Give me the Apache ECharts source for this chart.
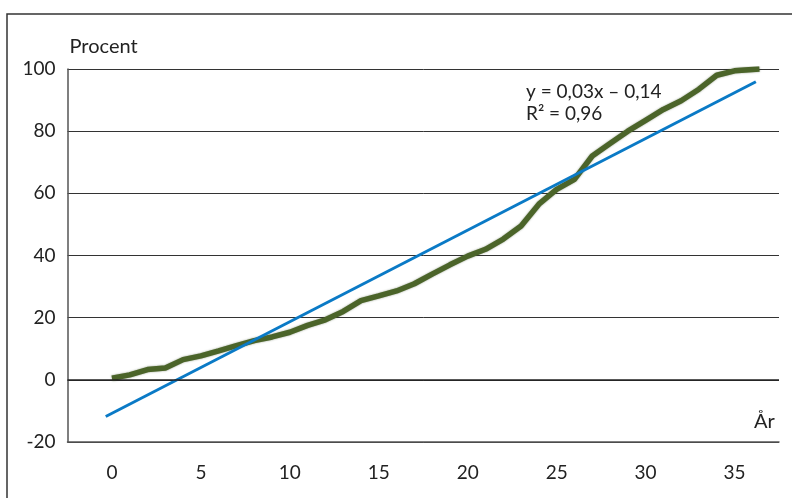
<!DOCTYPE html>
<html>
<head>
<meta charset="utf-8">
<script src="https://cdn.jsdelivr.net/npm/echarts@6/dist/echarts.min.js"></script>
<style>
  html, body { margin: 0; padding: 0; background: #fff; }
  #chart { width: 792px; height: 498px; }
</style>
</head>
<body>
<div id="chart"></div>
<script>
// Share (Procent) over years (År)
const years = [0, 1, 2, 3, 4, 5, 6, 7, 8, 9, 10, 11, 12, 13, 14, 15, 16, 17, 18,
  19, 20, 21, 22, 23, 24, 25, 26, 27, 28, 29, 30, 31, 32, 33, 34, 35, 36.4];
const procent = [0.5, 1.6, 3.3, 3.8, 6.5, 7.7, 9.3, 11.0, 12.6, 13.8, 15.3, 17.5, 19.3,
  22.0, 25.5, 27.0, 28.6, 30.9, 34.0, 37.0, 39.8, 42.0, 45.3, 49.5, 56.5, 61.3, 64.5,
  72.0, 76.0, 80.0, 83.5, 87.0, 89.8, 93.5, 98.0, 99.4, 100];

// Linear trend line endpoints
const trendYears = [-0.35, 36.2];
const trendValues = [-11.8, 95.9];

const xTicks = [0, 5, 10, 15, 20, 25, 30, 35];
const yTicks = [-20, 0, 20, 40, 60, 80, 100];
const equation = ['y = 0,03x \u2013 0,14', 'R\u00B2 = 0,96'];

const fontMain = 'Lato, "Noto Sans", sans-serif';

const chart = echarts.init(document.getElementById('chart'), null, { renderer: 'canvas' });

chart.setOption({
  animation: false,
  backgroundColor: '#fff',
  grid: { left: 67.5, right: 13, top: 69, bottom: 56, containLabel: false },
  xAxis: {
    type: 'value',
    min: -2.5,
    max: 37.5,
    axisLine: { onZero: false, lineStyle: { color: '#555', width: 1.5 } },
    axisTick: { show: false },
    splitLine: { show: false },
    axisLabel: {
      customValues: xTicks,
      margin: 21,
      color: '#222',
      fontSize: 19,
      fontFamily: fontMain
    }
  },
  yAxis: {
    type: 'value',
    min: yTicks[0],
    max: yTicks[yTicks.length - 1],
    interval: 20,
    name: 'Procent',
    nameLocation: 'end',
    nameGap: 12,
    nameTextStyle: { align: 'left', color: '#222', fontSize: 20, fontFamily: fontMain, padding: [0, 0, 0, 2] },
    axisLine: { show: true, onZero: false, lineStyle: { color: '#555', width: 1.5 } },
    axisTick: { show: false },
    splitLine: { show: true, lineStyle: { color: '#333', width: 1 } },
    axisLabel: {
      margin: 12,
      color: '#222',
      fontSize: 19,
      fontFamily: fontMain
    }
  },
  series: [
    {
      name: 'Procent',
      type: 'line',
      data: years.map((x, i) => [x, procent[i]]),
      showSymbol: false,
      smooth: false,
      lineStyle: { color: '#4b6429', width: 5.5, shadowColor: 'rgba(40,60,20,0.5)', shadowBlur: 2 },
      z: 3,
      markLine: {
        silent: true,
        symbol: 'none',
        label: { show: false },
        lineStyle: { color: '#222', width: 1.5, type: 'solid' },
        data: [{ yAxis: 0 }]
      }
    },
    {
      name: 'Trend',
      type: 'line',
      data: trendYears.map((x, i) => [x, trendValues[i]]),
      showSymbol: false,
      lineStyle: { color: '#0a7ac6', width: 3 },
      z: 4
    }
  ],
  graphic: [
    {
      type: 'rect',
      shape: { x: 7, y: 14, width: 820, height: 520 },
      style: { fill: 'none', stroke: '#333', lineWidth: 1.5 },
      silent: true
    },
    {
      type: 'text',
      left: 526,
      top: 81,
      style: {
        text: equation.join('\n'),
        font: '19px ' + fontMain,
        fill: '#222',
        lineHeight: 22
      }
    },
    {
      type: 'text',
      left: 754,
      top: 412,
      style: { text: 'År', font: '20px ' + fontMain, fill: '#222' }
    }
  ]
});
</script>
</body>
</html>
